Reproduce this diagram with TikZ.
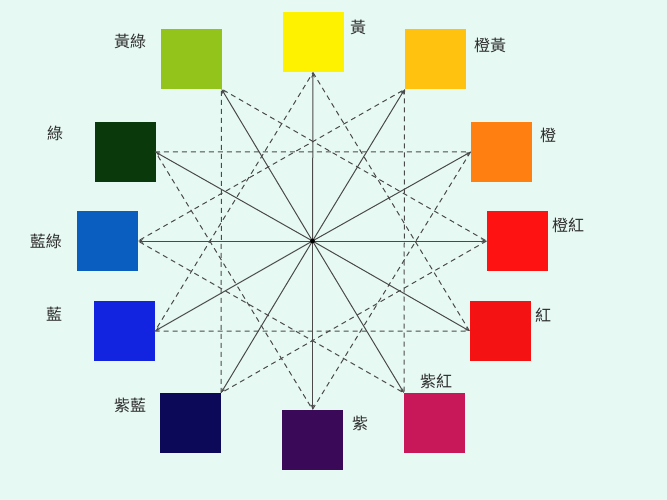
\documentclass[tikz,border=0pt]{standalone}
\usepackage{fontspec}
\newfontfamily\cjk{Noto Sans CJK TC}
\usetikzlibrary{arrows.meta}
\definecolor{bgc}{HTML}{E7F9F3}
\definecolor{cY}{HTML}{FFF200}
\definecolor{cYO}{HTML}{FFC20E}
\definecolor{cO}{HTML}{FF7F10}
\definecolor{cRO}{HTML}{FF1212}
\definecolor{cR}{HTML}{F51212}
\definecolor{cRV}{HTML}{C8185A}
\definecolor{cV}{HTML}{3A0A58}
\definecolor{cBV}{HTML}{0C0A58}
\definecolor{cB}{HTML}{1224E0}
\definecolor{cBG}{HTML}{0A5EC0}
\definecolor{cG}{HTML}{0A3A0C}
\definecolor{cYG}{HTML}{92C41C}
\definecolor{linec}{HTML}{4A4A4A}
\definecolor{txtc}{HTML}{2E2E2E}
\tikzset{
  swatch/.style={minimum width=61pt,minimum height=60pt,inner sep=0pt,outer sep=0pt,draw=none},
  lbl/.style={text=txtc,font=\cjk\fontsize{16}{16}\selectfont,inner sep=0pt},
  spoke/.style={draw=linec,line width=1pt,-{Stealth[length=5pt,width=3.5pt]}},
  tri/.style={draw=linec,line width=1pt,dash pattern=on 5pt off 4pt}
}
\begin{document}
\begin{tikzpicture}[x=1pt,y=-1pt]
\fill[bgc] (0,0) rectangle (667,500);
\useasboundingbox (0,0) rectangle (667,500);
% swatches
\node[swatch,fill=cY]  (Y)  at (313,42.5) {};
\node[swatch,fill=cYO] (YO) at (435,59.5) {};
\node[swatch,fill=cO]  (O)  at (501,152) {};
\node[swatch,fill=cRO] (RO) at (517,241) {};
\node[swatch,fill=cR]  (R)  at (500,331) {};
\node[swatch,fill=cRV] (RV) at (434.5,423) {};
\node[swatch,fill=cV]  (V)  at (312.5,439.5) {};
\node[swatch,fill=cBV] (BV) at (190.5,423) {};
\node[swatch,fill=cB]  (B)  at (124.5,331) {};
\node[swatch,fill=cBG] (BG) at (107.5,241) {};
\node[swatch,fill=cG]  (G)  at (125,152) {};
\node[swatch,fill=cYG] (YG) at (191,59) {};
% labels
\node[lbl] (lY)  at (358,27)  {黃};
\node[lbl] (lYO) at (490,45)  {橙黃};
\node[lbl] (lO)  at (548,135) {橙};
\node[lbl] (lRO) at (568,225) {橙紅};
\node[lbl] (lR)  at (543,315) {紅};
\node[lbl] (lRV) at (436,381) {紫紅};
\node[lbl] (lV)  at (360,423) {紫};
\node[lbl] (lBV) at (130,405) {紫藍};
\node[lbl] (lB)  at (54,314)  {藍};
\node[lbl] (lBG) at (46,241)  {藍綠};
\node[lbl] (lG)  at (55,133)  {綠};
\node[lbl] (lYG) at (130,41)  {黃綠};
% center
\coordinate (C) at (312.5,241);
% dashed triangles
\draw[tri] (Y.south) -- (R.west) -- (B.east) -- cycle;
\draw[tri] (YO.south west) -- (RV.north west) -- (BG.east) -- cycle;
\draw[tri] (O.west) -- (V.north) -- (G.east) -- cycle;
\draw[tri] (RO.west) -- (BV.north east) -- (YG.south east) -- cycle;
% spokes
\draw[spoke] (C) -- (Y.south);
\draw[spoke] (C) -- (YO.south west);
\draw[spoke] (C) -- (O.west);
\draw[spoke] (C) -- (RO.west);
\draw[spoke] (C) -- (R.west);
\draw[spoke] (C) -- (RV.north west);
\draw[spoke] (C) -- (V.north);
\draw[spoke] (C) -- (BV.north east);
\draw[spoke] (C) -- (B.east);
\draw[spoke] (C) -- (BG.east);
\draw[spoke] (C) -- (G.east);
\draw[spoke] (C) -- (YG.south east);
\fill[black] (C) circle (2.4pt);
\end{tikzpicture}
\end{document}
